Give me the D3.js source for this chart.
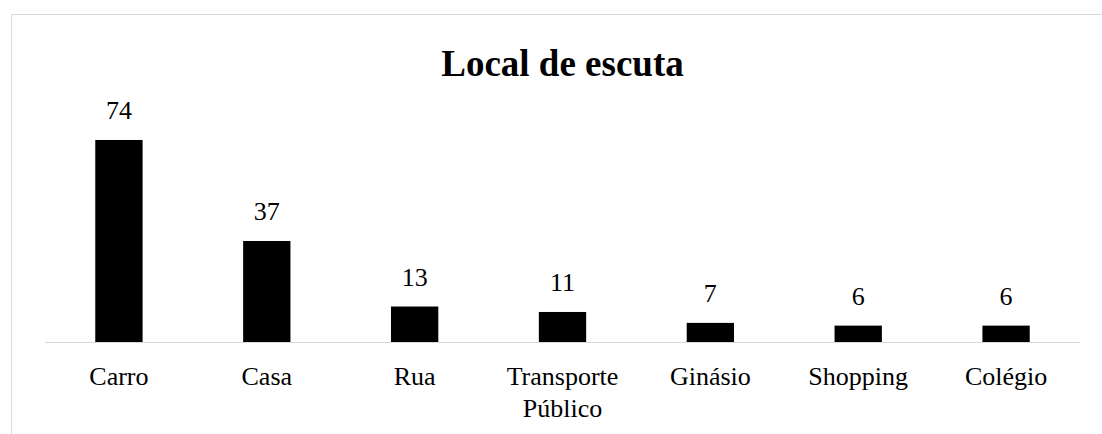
<!DOCTYPE html>
<html>
<head>
<meta charset="utf-8">
<script src="https://d3js.org/d3.v7.min.js"></script>
<style>
  body { margin: 0; background: #fff; }
  svg { display: block; }
  .chart text { font-family: "Liberation Serif", "Times New Roman", serif; fill: #000; }
</style>
</head>
<body>
<div id="chart"></div>
<script>
// Local de escuta - bar chart

var categories = [["Carro"], ["Casa"], ["Rua"], ["Transporte", "Público"], ["Ginásio"], ["Shopping"], ["Colégio"]];
var values = [74, 37, 13, 11, 7, 6, 6];
var title = "Local de escuta";

var width = 1102;
var height = 434;

var plotLeft = 45;
var plotRight = 1080;
var baseY = 342;

var svg = d3
    .select("#chart")
    .append("svg")
    .attr("width", width)
    .attr("height", height)
    .attr("class", "chart");

// outer frame (runs off the right and bottom edge)
svg.append("rect")
    .attr("x", 11.5)
    .attr("y", 14.5)
    .attr("width", 1110)
    .attr("height", 440)
    .attr("fill", "none")
    .attr("stroke", "#d9d9d9")
    .attr("stroke-width", 1);

var x = d3.scaleBand()
    .domain(d3.range(values.length))
    .range([plotLeft, plotRight])
    .paddingInner(0.68)
    .paddingOuter(0.34);

var y = d3.scaleLinear()
    .domain([0, 80])
    .range([baseY, baseY - 80 * 2.73]);

svg.append("text")
    .attr("x", (plotLeft + plotRight) / 2)
    .attr("y", 76)
    .attr("text-anchor", "middle")
    .style("font-size", "37px")
    .style("font-weight", "bold")
    .text(title);

svg.selectAll(".bar")
    .data(values)
    .enter()
    .append("rect")
    .attr("class", "bar")
    .attr("x", function(d, i) { return x(i); })
    .attr("y", function(d) { return y(d); })
    .attr("width", x.bandwidth())
    .attr("height", function(d) { return y(0) - y(d); })
    .attr("fill", "#000");

svg.append("line")
    .attr("x1", plotLeft)
    .attr("x2", plotRight)
    .attr("y1", baseY + 0.5)
    .attr("y2", baseY + 0.5)
    .attr("stroke", "#d9d9d9")
    .attr("stroke-width", 1);

svg.selectAll(".val")
    .data(values)
    .enter()
    .append("text")
    .attr("class", "val")
    .attr("x", function(d, i) { return x(i) + x.bandwidth() / 2; })
    .attr("y", function(d) { return y(d) - 21; })
    .attr("text-anchor", "middle")
    .style("font-size", "26px")
    .text(function(d) { return d; });

var cat = svg.selectAll(".cat")
    .data(categories)
    .enter()
    .append("text")
    .attr("class", "cat")
    .attr("text-anchor", "middle")
    .style("font-size", "26px");

cat.selectAll("tspan")
    .data(function(d, i) { return d.map(function(s) { return { s: s, i: i }; }); })
    .enter()
    .append("tspan")
    .attr("x", function(d) { return x(d.i) + x.bandwidth() / 2; })
    .attr("y", function(d, j) { return baseY + 43 + j * 32; })
    .text(function(d) { return d.s; });
</script>
</body>
</html>
